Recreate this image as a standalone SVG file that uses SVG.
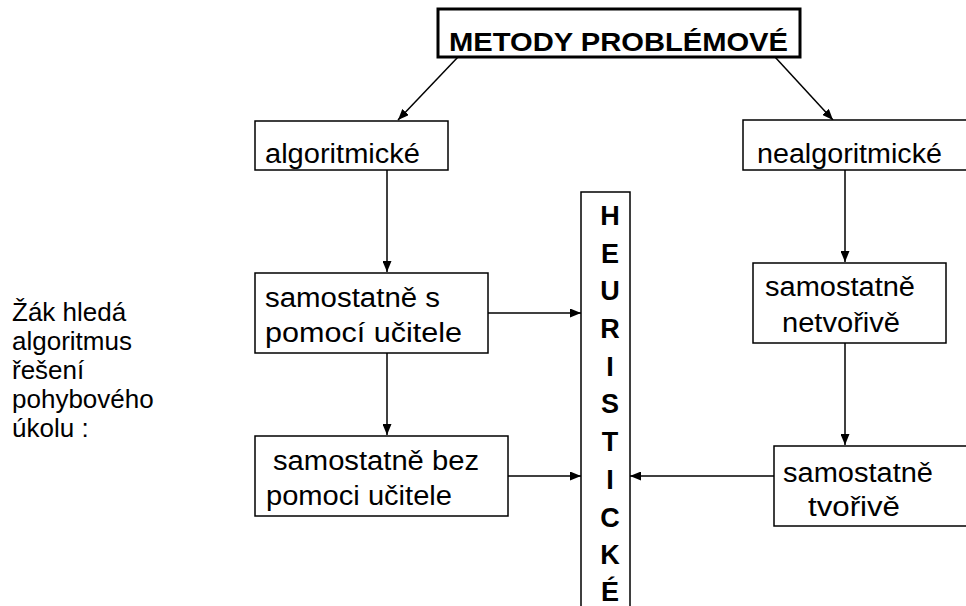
<svg xmlns="http://www.w3.org/2000/svg" width="966" height="606" viewBox="0 0 966 606">
<style>
.box{fill:#fff;stroke:#000;stroke-width:1.5}
.t{font-family:"Liberation Sans",Arial,sans-serif;font-size:27px;fill:#000}
.z{font-family:"Liberation Sans",Arial,sans-serif;font-size:26px;fill:#000}
.h{font-family:"Liberation Sans",Arial,sans-serif;font-size:27px;font-weight:bold;fill:#000;text-anchor:middle}
.c{stroke:#000;stroke-width:1.5;fill:none}
</style>
<defs>
<marker id="ah" viewBox="0 0 10 10" refX="10" refY="5" markerWidth="11" markerHeight="9" markerUnits="userSpaceOnUse" orient="auto" preserveAspectRatio="none">
<path d="M0,0 L10,5 L0,10 z" fill="#000"/>
</marker>
</defs>
<rect width="966" height="606" fill="#fff"/>
<g id="connectors">
<line class="c" x1="458" y1="57" x2="398" y2="120" marker-end="url(#ah)"/>
<line class="c" x1="775" y1="57" x2="833" y2="120" marker-end="url(#ah)"/>
<line class="c" x1="387" y1="170" x2="387" y2="272" marker-end="url(#ah)"/>
<line class="c" x1="387" y1="353" x2="387" y2="435" marker-end="url(#ah)"/>
<line class="c" x1="488" y1="313" x2="581" y2="313" marker-end="url(#ah)"/>
<line class="c" x1="508" y1="476" x2="581" y2="476" marker-end="url(#ah)"/>
<line class="c" x1="845" y1="170" x2="845" y2="262" marker-end="url(#ah)"/>
<line class="c" x1="845" y1="343" x2="845" y2="445" marker-end="url(#ah)"/>
<line class="c" x1="774" y1="476" x2="630" y2="476" marker-end="url(#ah)"/>
</g>
<g id="metody">
<rect x="438" y="9" width="362" height="48" fill="#fff" stroke="#000" stroke-width="3"/>
<text x="449" y="51" font-family="'Liberation Sans',Arial,sans-serif" font-size="26" font-weight="bold" textLength="339" lengthAdjust="spacingAndGlyphs">METODY PROBLÉMOVÉ</text>
</g>
<g id="algoritmicke">
<rect class="box" x="255" y="121" width="193" height="49"/>
<text class="t" x="265" y="163" textLength="155" lengthAdjust="spacingAndGlyphs">algoritmické</text>
</g>
<g id="nealgoritmicke">
<rect class="box" x="743" y="120" width="230" height="50"/>
<text class="t" x="757" y="163" textLength="185" lengthAdjust="spacingAndGlyphs">nealgoritmické</text>
</g>
<g id="s-pomoci">
<rect class="box" x="255" y="273" width="233" height="80"/>
<text class="t" x="265" y="307" textLength="175" lengthAdjust="spacingAndGlyphs">samostatně s</text>
<text class="t" x="265" y="342" textLength="197" lengthAdjust="spacingAndGlyphs">pomocí učitele</text>
</g>
<g id="bez-pomoci">
<rect class="box" x="255" y="436" width="253" height="80"/>
<text class="t" x="273" y="470" textLength="206" lengthAdjust="spacingAndGlyphs">samostatně bez</text>
<text class="t" x="266" y="505" textLength="186" lengthAdjust="spacingAndGlyphs">pomoci učitele</text>
</g>
<g id="netvorive">
<rect class="box" x="753" y="263" width="193" height="80"/>
<text class="t" x="765" y="296" textLength="150" lengthAdjust="spacingAndGlyphs">samostatně</text>
<text class="t" x="782" y="332" textLength="118" lengthAdjust="spacingAndGlyphs">netvořivě</text>
</g>
<g id="tvorive">
<rect class="box" x="774" y="446" width="200" height="80"/>
<text class="t" x="783" y="482" textLength="150" lengthAdjust="spacingAndGlyphs">samostatně</text>
<text class="t" x="808" y="516" textLength="92" lengthAdjust="spacingAndGlyphs">tvořivě</text>
</g>
<g id="heuristicke">
<rect class="box" x="581" y="192" width="49" height="420"/>
<text class="h" x="610" y="225">H</text>
<text class="h" x="610" y="263">E</text>
<text class="h" x="610" y="300">U</text>
<text class="h" x="610" y="338">R</text>
<text class="h" x="610" y="376">I</text>
<text class="h" x="610" y="413">S</text>
<text class="h" x="610" y="451">T</text>
<text class="h" x="610" y="489">I</text>
<text class="h" x="610" y="527">C</text>
<text class="h" x="610" y="564">K</text>
<text class="h" x="610" y="601">É</text>
</g>
<g id="zak">
<text class="z" x="12" y="321">Žák hledá</text>
<text class="z" x="12" y="350">algoritmus</text>
<text class="z" x="12" y="379">řešení</text>
<text class="z" x="12" y="408">pohybového</text>
<text class="z" x="12" y="437">úkolu :</text>
</g>
</svg>
